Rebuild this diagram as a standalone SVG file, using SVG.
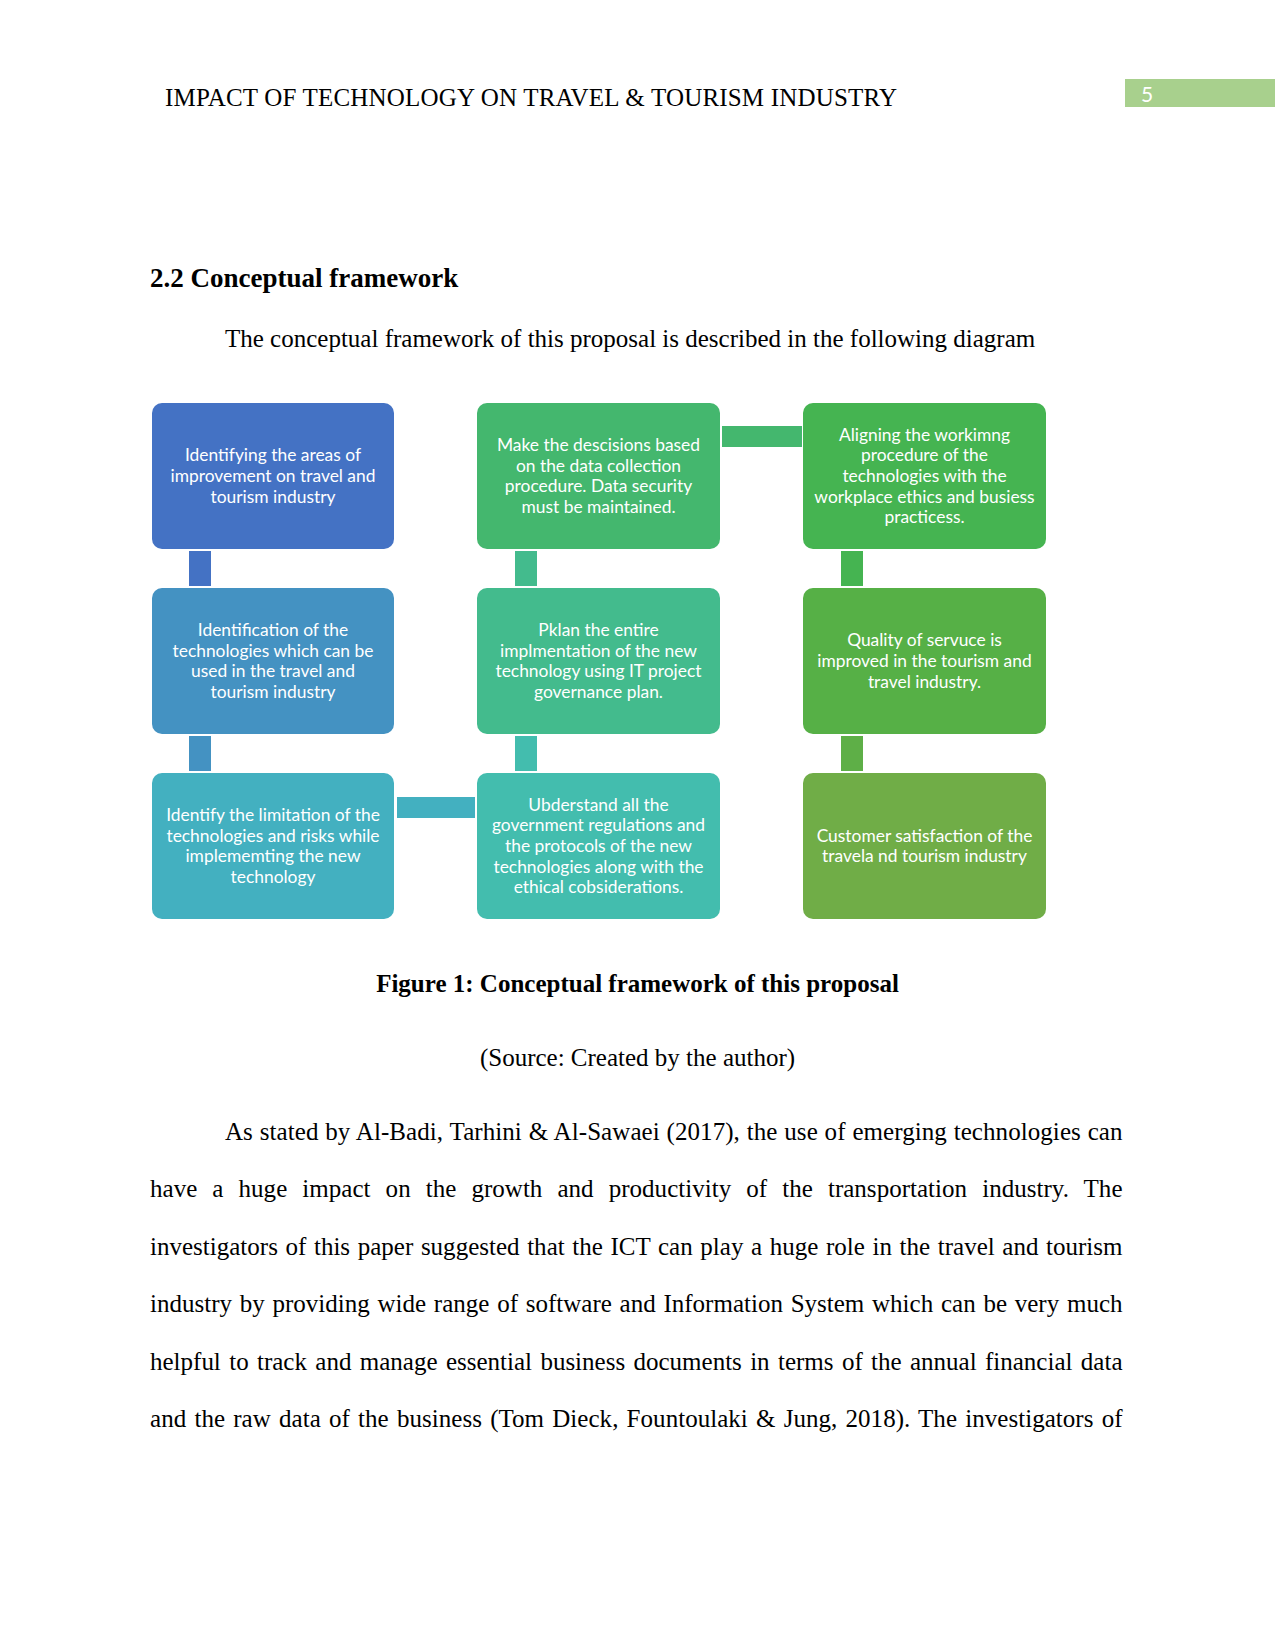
<svg xmlns="http://www.w3.org/2000/svg" width="1275" height="1650" viewBox="0 0 1275 1650">
<style>
.serif{font-family:"Liberation Serif","Times New Roman",serif;font-size:25px;fill:#000}
.bold{font-weight:bold}
.node text{font-family:Lato,"Open Sans",sans-serif;font-size:17.4px;fill:#fff;text-anchor:middle}
.pg{font-family:Lato,"Open Sans",sans-serif;font-size:21px;fill:#fff}
</style>
<rect width="1275" height="1650" fill="#fff"/>
<text class="serif" x="165" y="106" textLength="732" lengthAdjust="spacing">IMPACT OF TECHNOLOGY ON TRAVEL &amp; TOURISM INDUSTRY</text>
<rect x="1125" y="79" width="150" height="28" fill="#A8D08D"/>
<text class="pg" x="1141" y="101.5">5</text>
<text class="serif bold" x="150" y="287" style="font-size:27px">2.2 Conceptual framework</text>
<text class="serif" x="225" y="347">The conceptual framework of this proposal is described in the following diagram</text>

<g id="connectors">
<rect x="189" y="551" width="22" height="35" fill="#4472C4"/>
<rect x="189" y="736" width="22" height="35" fill="#4492C2"/>
<rect x="397" y="797" width="78" height="21" fill="#43B0C0"/>
<rect x="515" y="736" width="22" height="35" fill="#43BDAE"/>
<rect x="515" y="551" width="22" height="35" fill="#43BB8D"/>
<rect x="722" y="426" width="80" height="21" fill="#44B76E"/>
<rect x="841" y="551" width="22" height="35" fill="#45B451"/>
<rect x="841" y="736" width="22" height="35" fill="#5EAF47"/>
</g>

<g id="n1" class="node">
<rect x="152" y="403" width="242" height="146" rx="10" fill="#4472C4"/>
<text><tspan x="273" y="461.4">Identifying the areas of</tspan><tspan x="273" y="482">improvement on travel and</tspan><tspan x="273" y="502.6">tourism industry</tspan></text>
</g>
<g id="n2" class="node">
<rect x="152" y="588" width="242" height="146" rx="10" fill="#4492C2"/>
<text><tspan x="273" y="636.1">Identification of the</tspan><tspan x="273" y="656.7">technologies which can be</tspan><tspan x="273" y="677.3">used in the travel and</tspan><tspan x="273" y="697.9">tourism industry</tspan></text>
</g>
<g id="n3" class="node">
<rect x="152" y="773" width="242" height="146" rx="10" fill="#43B0C0"/>
<text><tspan x="273" y="821.1">Identify the limitation of the</tspan><tspan x="273" y="841.7">technologies and risks while</tspan><tspan x="273" y="862.3">implememting the new</tspan><tspan x="273" y="882.9">technology</tspan></text>
</g>
<g id="n4" class="node">
<rect x="477" y="773" width="243" height="146" rx="10" fill="#43BDAE"/>
<text><tspan x="598.5" y="810.8">Ubderstand all the</tspan><tspan x="598.5" y="831.4">government regulations and</tspan><tspan x="598.5" y="852">the protocols of the new</tspan><tspan x="598.5" y="872.6">technologies along with the</tspan><tspan x="598.5" y="893.2">ethical cobsiderations.</tspan></text>
</g>
<g id="n5" class="node">
<rect x="477" y="588" width="243" height="146" rx="10" fill="#43BB8D"/>
<text><tspan x="598.5" y="636.1">Pklan the entire</tspan><tspan x="598.5" y="656.7">implmentation of the new</tspan><tspan x="598.5" y="677.3">technology using IT project</tspan><tspan x="598.5" y="697.9">governance plan.</tspan></text>
</g>
<g id="n6" class="node">
<rect x="477" y="403" width="243" height="146" rx="10" fill="#44B76E"/>
<text><tspan x="598.5" y="451.1">Make the descisions based</tspan><tspan x="598.5" y="471.7">on the data collection</tspan><tspan x="598.5" y="492.3">procedure. Data security</tspan><tspan x="598.5" y="512.9">must be maintained.</tspan></text>
</g>
<g id="n7" class="node">
<rect x="803" y="403" width="243" height="146" rx="10" fill="#45B451"/>
<text><tspan x="924.5" y="440.8">Aligning the workimng</tspan><tspan x="924.5" y="461.4">procedure of the</tspan><tspan x="924.5" y="482">technologies with the</tspan><tspan x="924.5" y="502.6">workplace ethics and busiess</tspan><tspan x="924.5" y="523.2">practicess.</tspan></text>
</g>
<g id="n8" class="node">
<rect x="803" y="588" width="243" height="146" rx="10" fill="#56B046"/>
<text><tspan x="924.5" y="646.4">Quality of servuce is</tspan><tspan x="924.5" y="667">improved in the tourism and</tspan><tspan x="924.5" y="687.6">travel industry.</tspan></text>
</g>
<g id="n9" class="node">
<rect x="803" y="773" width="243" height="146" rx="10" fill="#70AD47"/>
<text><tspan x="924.5" y="841.7">Customer satisfaction of the</tspan><tspan x="924.5" y="862.3">travela nd tourism industry</tspan></text>
</g>

<text class="serif bold" x="637.5" y="992" text-anchor="middle">Figure 1: Conceptual framework of this proposal</text>
<text class="serif" x="637.5" y="1066" text-anchor="middle">(Source: Created by the author)</text>

<text class="serif" x="225" y="1140" word-spacing="0.5" textLength="897.5" lengthAdjust="spacing">As stated by Al-Badi, Tarhini &amp; Al-Sawaei (2017), the use of emerging technologies can</text>
<text class="serif" x="150" y="1197" word-spacing="8.8" textLength="972.5" lengthAdjust="spacing">have a huge impact on the growth and productivity of the transportation industry. The</text>
<text class="serif" x="150" y="1255" word-spacing="1.35" textLength="972.5" lengthAdjust="spacing">investigators of this paper suggested that the ICT can play a huge role in the travel and tourism</text>
<text class="serif" x="150" y="1312" word-spacing="1.5" textLength="972.5" lengthAdjust="spacing">industry by providing wide range of software and Information System which can be very much</text>
<text class="serif" x="150" y="1370" word-spacing="2.1" textLength="972.5" lengthAdjust="spacing">helpful to track and manage essential business documents in terms of the annual financial data</text>
<text class="serif" x="150" y="1427" word-spacing="1.9" textLength="972.5" lengthAdjust="spacing">and the raw data of the business (Tom Dieck, Fountoulaki &amp; Jung, 2018). The investigators of</text>
</svg>
